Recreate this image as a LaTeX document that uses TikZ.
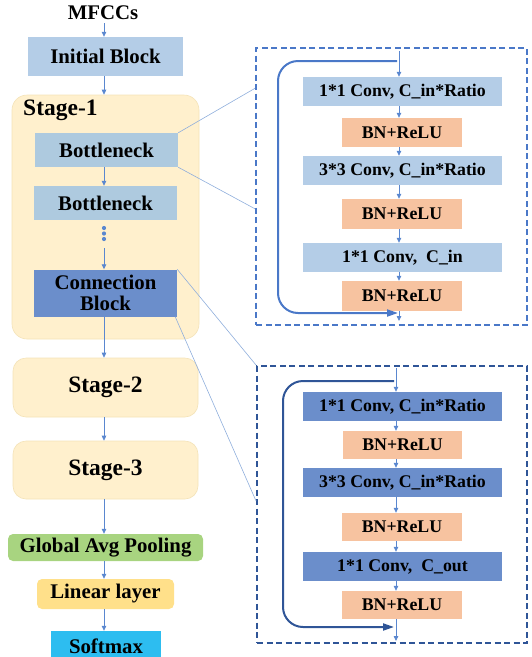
\documentclass[tikz,border=0pt]{standalone}
\usepackage{fontspec}
\setmainfont{Liberation Serif}
\usetikzlibrary{arrows.meta,calc}

\definecolor{lblue}{HTML}{B4CDE7}
\definecolor{bneck}{HTML}{AECADF}
\definecolor{dblue}{HTML}{6B8ECB}
\definecolor{orng}{HTML}{F7C3A0}
\definecolor{stagec}{HTML}{FFF0CD}
\definecolor{stageb}{HTML}{F4E3B8}
\definecolor{greenc}{HTML}{A8D480}
\definecolor{yellc}{HTML}{FFE08A}
\definecolor{cyanc}{HTML}{2DBDF0}
\definecolor{arrc}{HTML}{5A87CF}
\definecolor{zoomc}{HTML}{8FAEDC}
\definecolor{dashA}{HTML}{4A78C8}
\definecolor{dashB}{HTML}{2F5597}

\tikzset{
  blk/.style={inner sep=0pt, font=\fontsize{20.8}{22.5}\selectfont\bfseries, align=center},
  rblk/.style={inner sep=0pt, font=\fontsize{17.8}{19}\selectfont\bfseries, align=center},
  stagebox/.style={blk, fill=stagec, draw=stageb, line width=0.6pt, rounded corners=13pt},
  arr/.style={draw=arrc, line width=0.8pt, -{Triangle[length=5pt,width=4.5pt]}},
  zoomline/.style={draw=zoomc, line width=0.6pt},
  dashbox/.style={line width=2pt, dash pattern=on 6pt off 3.5pt, inner sep=0pt},
  skipline/.style={line width=2pt, rounded corners=20pt, -{Triangle[length=11pt,width=7pt]}},
}

\begin{document}
\begin{tikzpicture}[x=1pt,y=-1pt]
\useasboundingbox (0,0) rectangle (531,657);

% ---------- main column ----------
\node[blk] (mfcc) at (103,13) {MFCCs};
\node[blk, fill=lblue, minimum width=155pt, minimum height=39pt] (init) at (105.5,56.5) {Initial Block};

\node[stagebox, minimum width=187pt, minimum height=244pt, rounded corners=15pt] (st1) at (105.5,217) {};
\node[anchor=west, font=\fontsize{23.5}{25}\selectfont\bfseries, inner sep=0pt] (st1lbl) at (23,110) {Stage-1};

\node[blk, fill=bneck, minimum width=143pt, minimum height=34pt] (bn1) at (106.5,150) {Bottleneck};
\node[blk, fill=bneck, minimum width=143pt, minimum height=34pt] (bn2) at (105.5,203) {Bottleneck};
\foreach \yy [count=\i] in {228,233.5,239}
  \fill[arrc] (104,\yy) circle (2.1pt) coordinate (dot\i);
\node[blk, fill=dblue, minimum width=143pt, minimum height=47pt] (conn) at (105.5,293) {Connection\\[-1pt]Block};

\node[stagebox, font=\fontsize{23.5}{25}\selectfont\bfseries, minimum width=185pt, minimum height=59pt] (st2) at (105.5,387.5) {Stage-2};
\node[stagebox, font=\fontsize{23.5}{25}\selectfont\bfseries, minimum width=185pt, minimum height=58pt] (st3) at (105.5,470) {Stage-3};

\node[blk, fill=greenc, rounded corners=5pt, minimum width=195pt, minimum height=27pt] (gap) at (105.5,547.5) {Global Avg Pooling};
\node[blk, fill=yellc, rounded corners=5pt, minimum width=137pt, minimum height=30pt] (lin) at (105.5,594) {Linear layer};
\node[blk, fill=cyanc, minimum width=110pt, minimum height=30pt] (soft) at (106,646) {Softmax};

\coordinate (cx) at (104,0);
\draw[arr] (mfcc.south -| cx) ++(0,3) -- (init.north -| cx);
\draw[arr] (init.south -| cx) -- (st1.north -| cx);
\draw[arr] (bn1.south -| cx) -- (bn2.north -| cx);
\draw[arr] ($(dot3)+(0,9)$) -- (conn.north -| cx);
\draw[arr] (conn.south -| cx) -- (st2.north -| cx);
\draw[arr] (st2.south -| cx) -- (st3.north -| cx);
\draw[arr] (st3.south -| cx) -- (gap.north -| cx);
\draw[arr] (gap.south -| cx) -- (lin.north -| cx);
\draw[arr] (lin.south -| cx) -- (soft.north -| cx);

% ---------- bottleneck detail ----------
\node[dashbox, draw=dashA, minimum width=271pt, minimum height=277pt] (zt) at (391.5,186.5) {};
\node[rblk, fill=lblue, minimum width=199pt, minimum height=29pt] (t1) at (402.5,91.5) {1*1 Conv, C\_in*Ratio};
\node[rblk, fill=orng, minimum width=120pt, minimum height=29pt] (t2) at (402,132.5) {BN+ReLU};
\node[rblk, fill=lblue, minimum width=199pt, minimum height=29pt] (t3) at (402.5,170.5) {3*3 Conv, C\_in*Ratio};
\node[rblk, fill=orng, minimum width=120pt, minimum height=30pt] (t4) at (402,214) {BN+ReLU};
\node[rblk, fill=lblue, minimum width=199pt, minimum height=29pt] (t5) at (402.5,257.5) {1*1 Conv,\ \ C\_in};
\node[rblk, fill=orng, minimum width=120pt, minimum height=30pt] (t6) at (402,296) {BN+ReLU};

\coordinate (tx) at (399,0);
\coordinate (tin) at (399,51);
\coordinate (tout) at (399,321);
\draw[arr] (tin) -- (t1.north -| tx);
\draw[arr] (t1.south -| tx) -- (t2.north -| tx);
\draw[arr] (t2.south -| tx) -- (t3.north -| tx);
\draw[arr] (t3.south -| tx) -- (t4.north -| tx);
\draw[arr] (t4.south -| tx) -- (t5.north -| tx);
\draw[arr] (t5.south -| tx) -- (t6.north -| tx);
\draw[arr] (t6.south -| tx) -- (tout);

\coordinate (ts) at (397,61);
\coordinate (te) at (398,313);
\draw[skipline, draw=dashA] (ts) -- (278,61) -- (278,313) -- (te);

% ---------- connection block detail ----------
\node[dashbox, draw=dashB, minimum width=270pt, minimum height=277pt] (zb) at (392,504.5) {};
\node[rblk, fill=dblue, minimum width=199pt, minimum height=29pt] (u1) at (402.5,406.5) {1*1 Conv, C\_in*Ratio};
\node[rblk, fill=orng, minimum width=119pt, minimum height=28pt] (u2) at (402.5,445) {BN+ReLU};
\node[rblk, fill=dblue, minimum width=199pt, minimum height=29pt] (u3) at (402.5,482.5) {3*3 Conv, C\_in*Ratio};
\node[rblk, fill=orng, minimum width=120pt, minimum height=28pt] (u4) at (402,527) {BN+ReLU};
\node[rblk, fill=dblue, minimum width=199pt, minimum height=29pt] (u5) at (402.5,566.5) {1*1 Conv,\ \ C\_out};
\node[rblk, fill=orng, minimum width=120pt, minimum height=28pt] (u6) at (402,605) {BN+ReLU};

\coordinate (ux) at (396,0);
\coordinate (uin) at (396,368);
\coordinate (uout) at (396,641);
\draw[arr] (uin) -- (u1.north -| ux);
\draw[arr] (u1.south -| ux) -- (u2.north -| ux);
\draw[arr] (u2.south -| ux) -- (u3.north -| ux);
\draw[arr] (u3.south -| ux) -- (u4.north -| ux);
\draw[arr] (u4.south -| ux) -- (u5.north -| ux);
\draw[arr] (u5.south -| ux) -- (u6.north -| ux);
\draw[arr] (u6.south -| ux) -- (uout);

\coordinate (us) at (394,381);
\coordinate (ue) at (394,627);
\draw[skipline, draw=dashB] (us) -- (283,381) -- (283,627) -- (ue);

% ---------- zoom guide lines ----------
\draw[zoomline] (bn1.north east) -- ($(zt.north west)!0.148!(zt.south west)$);
\draw[zoomline] (bn1.south east) -- ($(zt.north west)!0.58!(zt.south west)$);
\draw[zoomline] (conn.north east) -- (zb.north west);
\draw[zoomline] ($(conn.south east)+(-2,0)$) -- ($(zb.north west)!0.487!(zb.south west)$);
\end{tikzpicture}
\end{document}
